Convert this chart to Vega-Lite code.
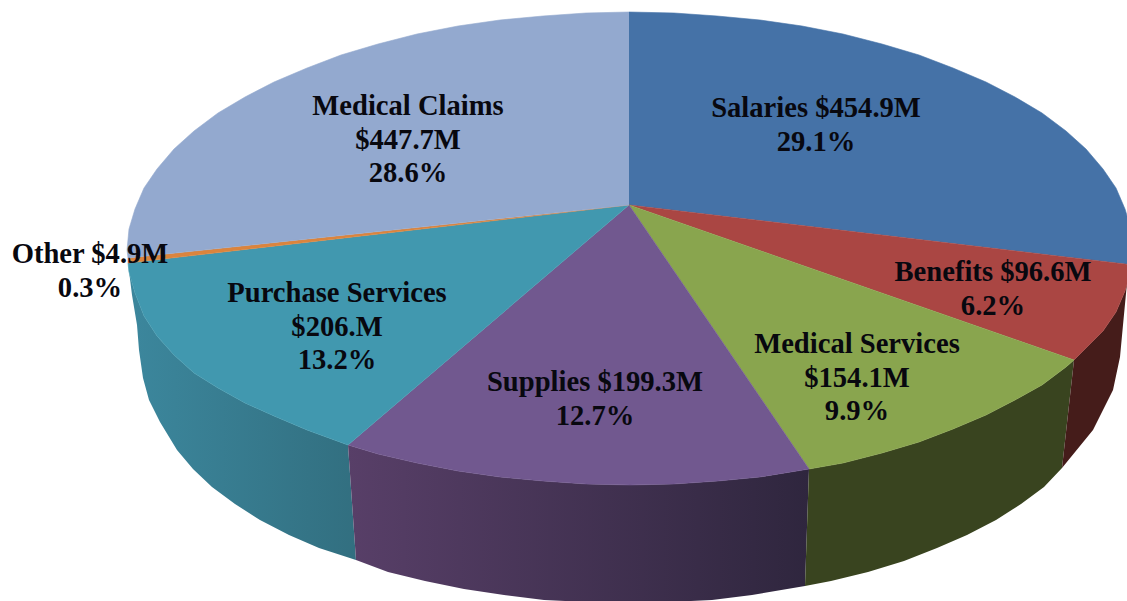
{"$schema":"https://vega.github.io/schema/vega-lite/v6.json","width":1127,"height":601,"autosize":"none","padding":0,"background":"white","config":{"view":{"stroke":null}},
"datasets":{
"walls":[
{"slice":"Purchase Services","i":0,"x":128,"y":263},{"slice":"Purchase Services","i":1,"x":129,"y":272},{"slice":"Purchase Services","i":2,"x":135,"y":293},{"slice":"Purchase Services","i":3,"x":144,"y":316},{"slice":"Purchase Services","i":4,"x":157,"y":336},{"slice":"Purchase Services","i":5,"x":174,"y":355},{"slice":"Purchase Services","i":6,"x":194,"y":373},{"slice":"Purchase Services","i":7,"x":218,"y":388},{"slice":"Purchase Services","i":8,"x":245,"y":403},{"slice":"Purchase Services","i":9,"x":274,"y":416},{"slice":"Purchase Services","i":10,"x":307,"y":430},{"slice":"Purchase Services","i":11,"x":348,"y":445},{"slice":"Purchase Services","i":12,"x":356,"y":560},{"slice":"Purchase Services","i":13,"x":319,"y":548},{"slice":"Purchase Services","i":14,"x":289,"y":535},{"slice":"Purchase Services","i":15,"x":260,"y":520},{"slice":"Purchase Services","i":16,"x":235,"y":504},{"slice":"Purchase Services","i":17,"x":212,"y":487},{"slice":"Purchase Services","i":18,"x":193,"y":469},{"slice":"Purchase Services","i":19,"x":177,"y":450},{"slice":"Purchase Services","i":20,"x":160,"y":422},{"slice":"Purchase Services","i":21,"x":149,"y":400},{"slice":"Purchase Services","i":22,"x":143,"y":378},{"slice":"Purchase Services","i":23,"x":139,"y":350},{"slice":"Purchase Services","i":24,"x":137,"y":325},{"slice":"Purchase Services","i":25,"x":132,"y":295},
{"slice":"Supplies","i":0,"x":348,"y":445},{"slice":"Supplies","i":1,"x":378,"y":454},{"slice":"Supplies","i":2,"x":417,"y":463},{"slice":"Supplies","i":3,"x":458,"y":471},{"slice":"Supplies","i":4,"x":500,"y":477},{"slice":"Supplies","i":5,"x":543,"y":481},{"slice":"Supplies","i":6,"x":586,"y":484},{"slice":"Supplies","i":7,"x":630,"y":485},{"slice":"Supplies","i":8,"x":674,"y":484},{"slice":"Supplies","i":9,"x":718,"y":481},{"slice":"Supplies","i":10,"x":760,"y":477},{"slice":"Supplies","i":11,"x":809,"y":469},{"slice":"Supplies","i":12,"x":805,"y":586},{"slice":"Supplies","i":13,"x":752,"y":595},{"slice":"Supplies","i":14,"x":712,"y":600},{"slice":"Supplies","i":15,"x":670,"y":602},{"slice":"Supplies","i":16,"x":628,"y":603},{"slice":"Supplies","i":17,"x":586,"y":602},{"slice":"Supplies","i":18,"x":544,"y":600},{"slice":"Supplies","i":19,"x":504,"y":595},{"slice":"Supplies","i":20,"x":464,"y":589},{"slice":"Supplies","i":21,"x":425,"y":581},{"slice":"Supplies","i":22,"x":388,"y":572},{"slice":"Supplies","i":23,"x":356,"y":560},
{"slice":"Medical Services","i":0,"x":809,"y":469},{"slice":"Medical Services","i":1,"x":843,"y":463},{"slice":"Medical Services","i":2,"x":882,"y":453},{"slice":"Medical Services","i":3,"x":919,"y":442},{"slice":"Medical Services","i":4,"x":953,"y":429},{"slice":"Medical Services","i":5,"x":986,"y":415},{"slice":"Medical Services","i":6,"x":1015,"y":400},{"slice":"Medical Services","i":7,"x":1042,"y":385},{"slice":"Medical Services","i":8,"x":1066,"y":367},{"slice":"Medical Services","i":9,"x":1074,"y":360},{"slice":"Medical Services","i":10,"x":1062,"y":468},{"slice":"Medical Services","i":11,"x":1044,"y":487},{"slice":"Medical Services","i":12,"x":1021,"y":504},{"slice":"Medical Services","i":13,"x":996,"y":520},{"slice":"Medical Services","i":14,"x":967,"y":535},{"slice":"Medical Services","i":15,"x":937,"y":548},{"slice":"Medical Services","i":16,"x":904,"y":561},{"slice":"Medical Services","i":17,"x":868,"y":572},{"slice":"Medical Services","i":18,"x":831,"y":581},{"slice":"Medical Services","i":19,"x":805,"y":586},
{"slice":"Benefits","i":0,"x":1074,"y":360},{"slice":"Benefits","i":1,"x":1083,"y":351},{"slice":"Benefits","i":2,"x":1103,"y":331},{"slice":"Benefits","i":3,"x":1116,"y":312},{"slice":"Benefits","i":4,"x":1125,"y":291},{"slice":"Benefits","i":5,"x":1127,"y":283},{"slice":"Benefits","i":6,"x":1123,"y":325},{"slice":"Benefits","i":7,"x":1120,"y":357},{"slice":"Benefits","i":8,"x":1113,"y":390},{"slice":"Benefits","i":9,"x":1093,"y":430},{"slice":"Benefits","i":10,"x":1062,"y":468}
],
"faces":[
{"slice":"Salaries","i":0,"x":629,"y":205},{"slice":"Salaries","i":1,"x":629,"y":12},{"slice":"Salaries","i":2,"x":674,"y":13},{"slice":"Salaries","i":3,"x":717,"y":16},{"slice":"Salaries","i":4,"x":760,"y":20},{"slice":"Salaries","i":5,"x":802,"y":26},{"slice":"Salaries","i":6,"x":843,"y":34},{"slice":"Salaries","i":7,"x":882,"y":44},{"slice":"Salaries","i":8,"x":919,"y":55},{"slice":"Salaries","i":9,"x":953,"y":68},{"slice":"Salaries","i":10,"x":986,"y":82},{"slice":"Salaries","i":11,"x":1015,"y":97},{"slice":"Salaries","i":12,"x":1042,"y":113},{"slice":"Salaries","i":13,"x":1066,"y":131},{"slice":"Salaries","i":14,"x":1086,"y":149},{"slice":"Salaries","i":15,"x":1103,"y":169},{"slice":"Salaries","i":16,"x":1116,"y":188},{"slice":"Salaries","i":17,"x":1125,"y":209},{"slice":"Salaries","i":18,"x":1131,"y":229},{"slice":"Salaries","i":19,"x":1133,"y":250},{"slice":"Salaries","i":20,"x":1133,"y":265},
{"slice":"Benefits","i":0,"x":629,"y":205},{"slice":"Benefits","i":1,"x":1133,"y":265},{"slice":"Benefits","i":2,"x":1131,"y":271},{"slice":"Benefits","i":3,"x":1125,"y":291},{"slice":"Benefits","i":4,"x":1116,"y":312},{"slice":"Benefits","i":5,"x":1103,"y":331},{"slice":"Benefits","i":6,"x":1083,"y":351},{"slice":"Benefits","i":7,"x":1074,"y":360},
{"slice":"Medical Services","i":0,"x":629,"y":205},{"slice":"Medical Services","i":1,"x":1074,"y":360},{"slice":"Medical Services","i":2,"x":1066,"y":367},{"slice":"Medical Services","i":3,"x":1042,"y":385},{"slice":"Medical Services","i":4,"x":1015,"y":400},{"slice":"Medical Services","i":5,"x":986,"y":415},{"slice":"Medical Services","i":6,"x":953,"y":429},{"slice":"Medical Services","i":7,"x":919,"y":442},{"slice":"Medical Services","i":8,"x":882,"y":453},{"slice":"Medical Services","i":9,"x":843,"y":463},{"slice":"Medical Services","i":10,"x":809,"y":469},
{"slice":"Supplies","i":0,"x":629,"y":205},{"slice":"Supplies","i":1,"x":809,"y":469},{"slice":"Supplies","i":2,"x":760,"y":477},{"slice":"Supplies","i":3,"x":718,"y":481},{"slice":"Supplies","i":4,"x":674,"y":484},{"slice":"Supplies","i":5,"x":630,"y":485},{"slice":"Supplies","i":6,"x":586,"y":484},{"slice":"Supplies","i":7,"x":543,"y":481},{"slice":"Supplies","i":8,"x":500,"y":477},{"slice":"Supplies","i":9,"x":458,"y":471},{"slice":"Supplies","i":10,"x":417,"y":463},{"slice":"Supplies","i":11,"x":378,"y":454},{"slice":"Supplies","i":12,"x":348,"y":445},
{"slice":"Purchase Services","i":0,"x":629,"y":205},{"slice":"Purchase Services","i":1,"x":348,"y":445},{"slice":"Purchase Services","i":2,"x":307,"y":430},{"slice":"Purchase Services","i":3,"x":274,"y":416},{"slice":"Purchase Services","i":4,"x":245,"y":403},{"slice":"Purchase Services","i":5,"x":218,"y":388},{"slice":"Purchase Services","i":6,"x":194,"y":373},{"slice":"Purchase Services","i":7,"x":174,"y":355},{"slice":"Purchase Services","i":8,"x":157,"y":336},{"slice":"Purchase Services","i":9,"x":144,"y":316},{"slice":"Purchase Services","i":10,"x":135,"y":293},{"slice":"Purchase Services","i":11,"x":129,"y":272},{"slice":"Purchase Services","i":12,"x":128,"y":263},
{"slice":"Other","i":0,"x":629,"y":205},{"slice":"Other","i":1,"x":128,"y":263},{"slice":"Other","i":2,"x":128,"y":258},
{"slice":"Medical Claims","i":0,"x":629,"y":205},{"slice":"Medical Claims","i":1,"x":128,"y":258},{"slice":"Medical Claims","i":2,"x":127,"y":250},{"slice":"Medical Claims","i":3,"x":129,"y":229},{"slice":"Medical Claims","i":4,"x":135,"y":209},{"slice":"Medical Claims","i":5,"x":144,"y":188},{"slice":"Medical Claims","i":6,"x":157,"y":169},{"slice":"Medical Claims","i":7,"x":174,"y":149},{"slice":"Medical Claims","i":8,"x":194,"y":131},{"slice":"Medical Claims","i":9,"x":218,"y":113},{"slice":"Medical Claims","i":10,"x":245,"y":97},{"slice":"Medical Claims","i":11,"x":274,"y":82},{"slice":"Medical Claims","i":12,"x":307,"y":68},{"slice":"Medical Claims","i":13,"x":341,"y":55},{"slice":"Medical Claims","i":14,"x":378,"y":44},{"slice":"Medical Claims","i":15,"x":417,"y":34},{"slice":"Medical Claims","i":16,"x":458,"y":26},{"slice":"Medical Claims","i":17,"x":500,"y":20},{"slice":"Medical Claims","i":18,"x":543,"y":16},{"slice":"Medical Claims","i":19,"x":586,"y":13},{"slice":"Medical Claims","i":20,"x":629,"y":12}
],
"labels":[
{"slice":"Salaries","label":"Salaries $454.9M\n29.1%","x":816,"y":117},
{"slice":"Medical Claims","label":"Medical Claims\n$447.7M\n28.6%","x":408,"y":115},
{"slice":"Benefits","label":"Benefits $96.6M\n6.2%","x":993,"y":281},
{"slice":"Medical Services","label":"Medical Services\n$154.1M\n9.9%","x":857,"y":353},
{"slice":"Supplies","label":"Supplies $199.3M\n12.7%","x":595,"y":391},
{"slice":"Purchase Services","label":"Purchase Services\n$206.M\n13.2%","x":337,"y":302},
{"slice":"Other","label":"Other $4.9M\n0.3%","x":90,"y":263}
]},
"encoding":{"x":{"field":"x","type":"quantitative","scale":{"domain":[0,1127],"nice":false,"zero":false},"axis":null},"y":{"field":"y","type":"quantitative","scale":{"domain":[601,0],"nice":false,"zero":false},"axis":null}},
"layer":[
{"data":{"name":"walls"},"transform":[{"filter":"datum.slice=='Purchase Services'"}],"mark":{"type":"line","clip":true,"strokeWidth":0,"fill":{"gradient":"linear","x1":0,"y1":0,"x2":1,"y2":0,"stops":[{"offset":0,"color":"#3C879D"},{"offset":1,"color":"#326F80"}]}},"encoding":{"order":{"field":"i","type":"quantitative"}}},
{"data":{"name":"walls"},"transform":[{"filter":"datum.slice=='Supplies'"}],"mark":{"type":"line","clip":true,"strokeWidth":0,"fill":{"gradient":"linear","x1":0,"y1":0,"x2":1,"y2":0,"stops":[{"offset":0,"color":"#583F68"},{"offset":1,"color":"#2F263E"}]}},"encoding":{"order":{"field":"i","type":"quantitative"}}},
{"data":{"name":"walls"},"transform":[{"filter":"datum.slice=='Medical Services'"}],"mark":{"type":"line","clip":true,"strokeWidth":0,"fill":"#39441F"},"encoding":{"order":{"field":"i","type":"quantitative"}}},
{"data":{"name":"walls"},"transform":[{"filter":"datum.slice=='Benefits'"}],"mark":{"type":"line","clip":true,"strokeWidth":0,"fill":"#451C1A"},"encoding":{"order":{"field":"i","type":"quantitative"}}},
{"data":{"name":"faces"},"mark":{"type":"line","clip":true,"filled":true,"strokeWidth":0.6},"encoding":{"order":{"field":"i","type":"quantitative"},
"fill":{"field":"slice","type":"nominal","legend":null,"scale":{"domain":["Salaries","Benefits","Medical Services","Supplies","Purchase Services","Other","Medical Claims"],"range":["#4572A7","#AA4643","#89A54E","#71588F","#4198AF","#DB843D","#93A9CF"]}},
"stroke":{"field":"slice","type":"nominal","legend":null,"scale":{"domain":["Salaries","Benefits","Medical Services","Supplies","Purchase Services","Other","Medical Claims"],"range":["#4572A7","#AA4643","#89A54E","#71588F","#4198AF","#DB843D","#93A9CF"]}}}},
{"data":{"name":"labels"},"mark":{"type":"text","font":"Liberation Serif","fontWeight":"bold","fontSize":28.6,"lineBreak":"\n","lineHeight":33.5,"align":"center","baseline":"alphabetic","fill":"#08080F"},"encoding":{"text":{"field":"label","type":"nominal"}}}
]}
